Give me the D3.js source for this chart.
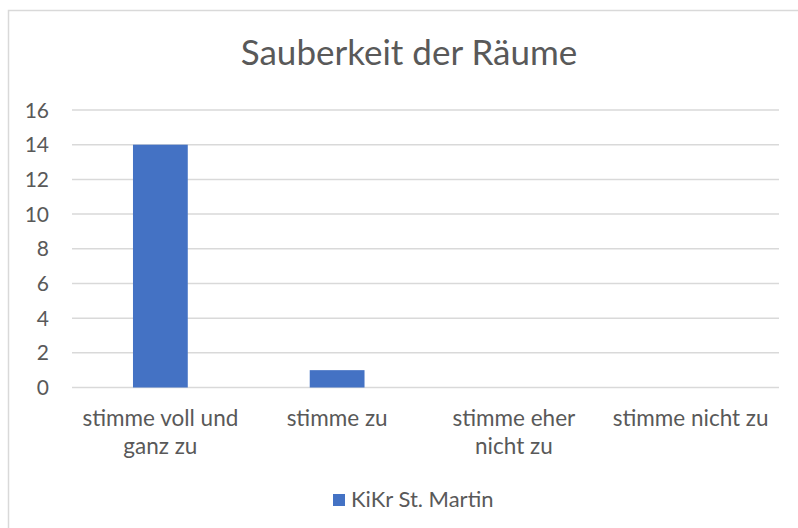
<!DOCTYPE html>
<html>
<head>
<meta charset="utf-8">
<script src="https://cdn.jsdelivr.net/npm/d3@7"></script>
<style>
  body { margin: 0; background: #fff; }
  svg text { font-family: Lato, "Open Sans", sans-serif; fill: #595959; }
</style>
</head>
<body>
<svg id="chart" width="798" height="528"></svg>
<script>
// data
var categories = ["stimme voll und ganz zu", "stimme zu", "stimme eher nicht zu", "stimme nicht zu"];
var catLines = [["stimme voll und", "ganz zu"], ["stimme zu"], ["stimme eher", "nicht zu"], ["stimme nicht zu"]];
var values = [14, 1, 0, 0];
var seriesName = "KiKr St. Martin";
var yTicks = [0, 2, 4, 6, 8, 10, 12, 14, 16];

var svg = d3.select("#chart");
var barColor = "#4472c4";
var gridColor = "#d9d9d9";

// chart frame
svg.append("rect")
    .attr("x", 8.5).attr("y", 10.5)
    .attr("width", 800).attr("height", 530)
    .attr("fill", "#fff")
    .attr("stroke", gridColor).attr("stroke-width", 1.5);

var plotLeft = 72, plotRight = 779, plotTop = 110, plotBottom = 387.5;

var x = d3.scaleBand()
    .domain(categories)
    .range([plotLeft, plotRight])
    .paddingInner(0.69)
    .paddingOuter(0.345);

var y = d3.scaleLinear()
    .domain([0, 16])
    .range([plotBottom, plotTop]);

// gridlines
svg.append("g")
    .selectAll("line")
    .data(yTicks)
    .enter()
    .append("line")
    .attr("x1", plotLeft).attr("x2", plotRight)
    .attr("y1", function (d) { return y(d); })
    .attr("y2", function (d) { return y(d); })
    .attr("stroke", gridColor)
    .attr("stroke-width", 1.5);

// y labels
svg.append("g")
    .selectAll("text")
    .data(yTicks)
    .enter()
    .append("text")
    .attr("x", 49)
    .attr("y", function (d) { return y(d); })
    .attr("dy", "0.36em")
    .attr("text-anchor", "end")
    .attr("font-size", 21)
    .text(function (d) { return d; });

// bars
svg.append("g")
    .selectAll("rect")
    .data(values)
    .enter()
    .append("rect")
    .attr("x", function (d, i) { return x(categories[i]); })
    .attr("y", function (d) { return y(d); })
    .attr("width", x.bandwidth())
    .attr("height", function (d) { return plotBottom - y(d); })
    .attr("fill", barColor);

// x labels
var xl = svg.append("g")
    .selectAll("text")
    .data(categories)
    .enter()
    .append("text")
    .attr("x", function (d) { return x(d) + x.bandwidth() / 2; })
    .attr("y", 426)
    .attr("text-anchor", "middle")
    .attr("font-size", 22.5);
xl.selectAll("tspan")
    .data(function (d, i) { return catLines[i]; })
    .enter()
    .append("tspan")
    .attr("x", function () { return d3.select(this.parentNode).attr("x"); })
    .attr("dy", function (d, i) { return i === 0 ? 0 : 28; })
    .text(function (d) { return d; });

// title
svg.append("text")
    .attr("x", 409)
    .attr("y", 65)
    .attr("text-anchor", "middle")
    .attr("font-size", 35)
    .text("Sauberkeit der Räume");

// legend
svg.append("rect")
    .attr("x", 333).attr("y", 494)
    .attr("width", 12).attr("height", 12)
    .attr("fill", barColor);
svg.append("text")
    .attr("x", 351).attr("y", 507)
    .attr("font-size", 22)
    .text(seriesName);
</script>
</body>
</html>
